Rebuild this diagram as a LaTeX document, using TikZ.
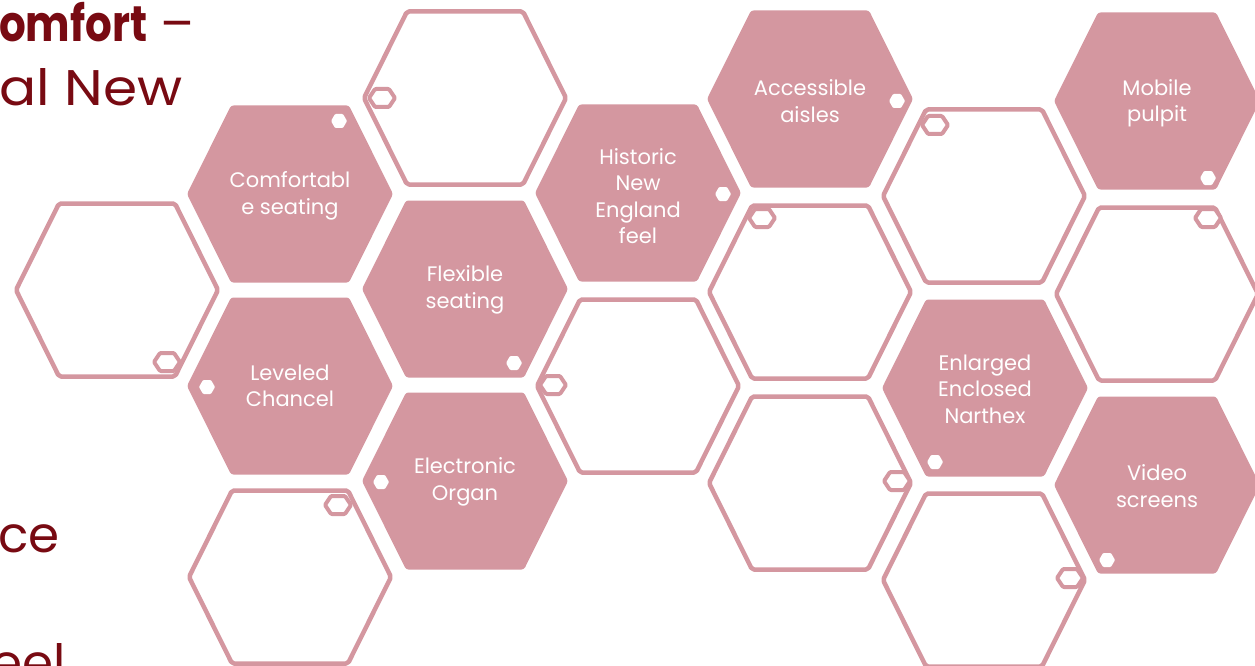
\documentclass[tikz,border=0pt]{standalone}
\usepackage{fontspec}
\setmainfont{Poppins}
\definecolor{pinkc}{HTML}{D497A0}
\definecolor{titlered}{HTML}{780A12}
\tikzset{
  hexfill/.style={fill=pinkc, draw=none, rounded corners=2.5pt},
  hexline/.style={draw=pinkc, line width=4.5pt, fill=white, rounded corners=2pt, line join=round},
  dotfill/.style={fill=white, draw=none, rounded corners=1pt},
  dotline/.style={draw=pinkc, line width=4pt, fill=white, rounded corners=1pt, line join=round},
  lbl/.style={text=white, align=center, inner sep=0pt, font=\fontsize{21}{26.5}\selectfont},
  ttl/.style={text=titlered, inner sep=0pt, font=\fontsize{50}{60}\selectfont},
  pics/fhex/.style 2 args={code={
    \fill[hexfill] (-103,0) -- (-59,-88.5) -- (59,-88.5) -- (103,0) -- (59,88.5) -- (-59,88.5) -- cycle;
    \fill[dotfill] (#1,#2) ++(-8,0) -- ++(4,-7) -- ++(8,0) -- ++(4,7) -- ++(-4,7) -- ++(-8,0) -- cycle;
  }},
  pics/ohex/.style 2 args={code={
    \draw[hexline] (-101,0) -- (-58,-86.5) -- (58,-86.5) -- (101,0) -- (58,86.5) -- (-58,86.5) -- cycle;
    \draw[dotline] (#1,#2) ++(-13,0) -- ++(6,-9) -- ++(14,0) -- ++(6,9) -- ++(-6,9) -- ++(-14,0) -- cycle;
  }},
}
\begin{document}
\begin{tikzpicture}[x=1pt,y=-1pt]
\path[use as bounding box] (0,0) rectangle (1255,666);
\clip (0,0) rectangle (1255,666);

% title text (cut at the left edge, as in the slide)
\node[ttl, anchor=base west] (t1) at (-1,42) {\scalebox{0.84}[1]{\textbf{omfort}} –};
\node[ttl, anchor=base east] (t2) at (183,106) {\scalebox{1.1}[1]{al New}};
\node[ttl, anchor=base east] (t3) at (60,552) {ce};
\node[ttl, anchor=base east] (t4) at (66,680) {eel};

% column 1
\pic at (117,290) {ohex={50}{72}};
% column 2
\pic at (290,194) {fhex={49}{-73}};
\pic at (290,386) {fhex={-83}{1}};
\pic at (290,577) {ohex={48}{-72}};
% column 3
\pic at (465,98) {ohex={-83}{0}};
\pic at (465,289) {fhex={49}{74}};
\pic at (465,481) {fhex={-84}{1}};
% column 4
\pic at (638,193) {fhex={85}{1}};
\pic at (638,386) {ohex={-85}{-1}};
% column 5
\pic at (810,99) {fhex={87}{2}};
\pic at (810,292) {ohex={-48}{-74}};
\pic at (810,483) {ohex={87}{-2}};
% column 6
\pic at (984,196) {ohex={-49}{-71}};
\pic at (985,388) {fhex={-50}{74}};
\pic at (984,580) {ohex={86}{-2}};
% column 7
\pic at (1157,101) {fhex={51}{77}};
\pic at (1157,294) {ohex={51}{-76}};
\pic at (1157,485) {fhex={-50}{75}};

% labels
\node[lbl] (comf) at (290,196) {Comfortabl\\e seating};
\node[lbl] (lev) at (290,386) {Leveled\\Chancel};
\node[lbl] (flex) at (465,290) {Flexible\\seating};
\node[lbl] (org) at (465,482) {Electronic\\Organ};
\node[lbl] (hist) at (638,196) {Historic\\New\\England\\feel};
\node[lbl] (acc) at (810,101) {Accessible\\aisles};
\node[lbl] (nar) at (985,389) {Enlarged\\Enclosed\\Narthex};
\node[lbl] (pul) at (1157,103) {Mobile\\pulpit};
\node[lbl] (vid) at (1157,486) {Video\\screens};
\end{tikzpicture}
\end{document}
